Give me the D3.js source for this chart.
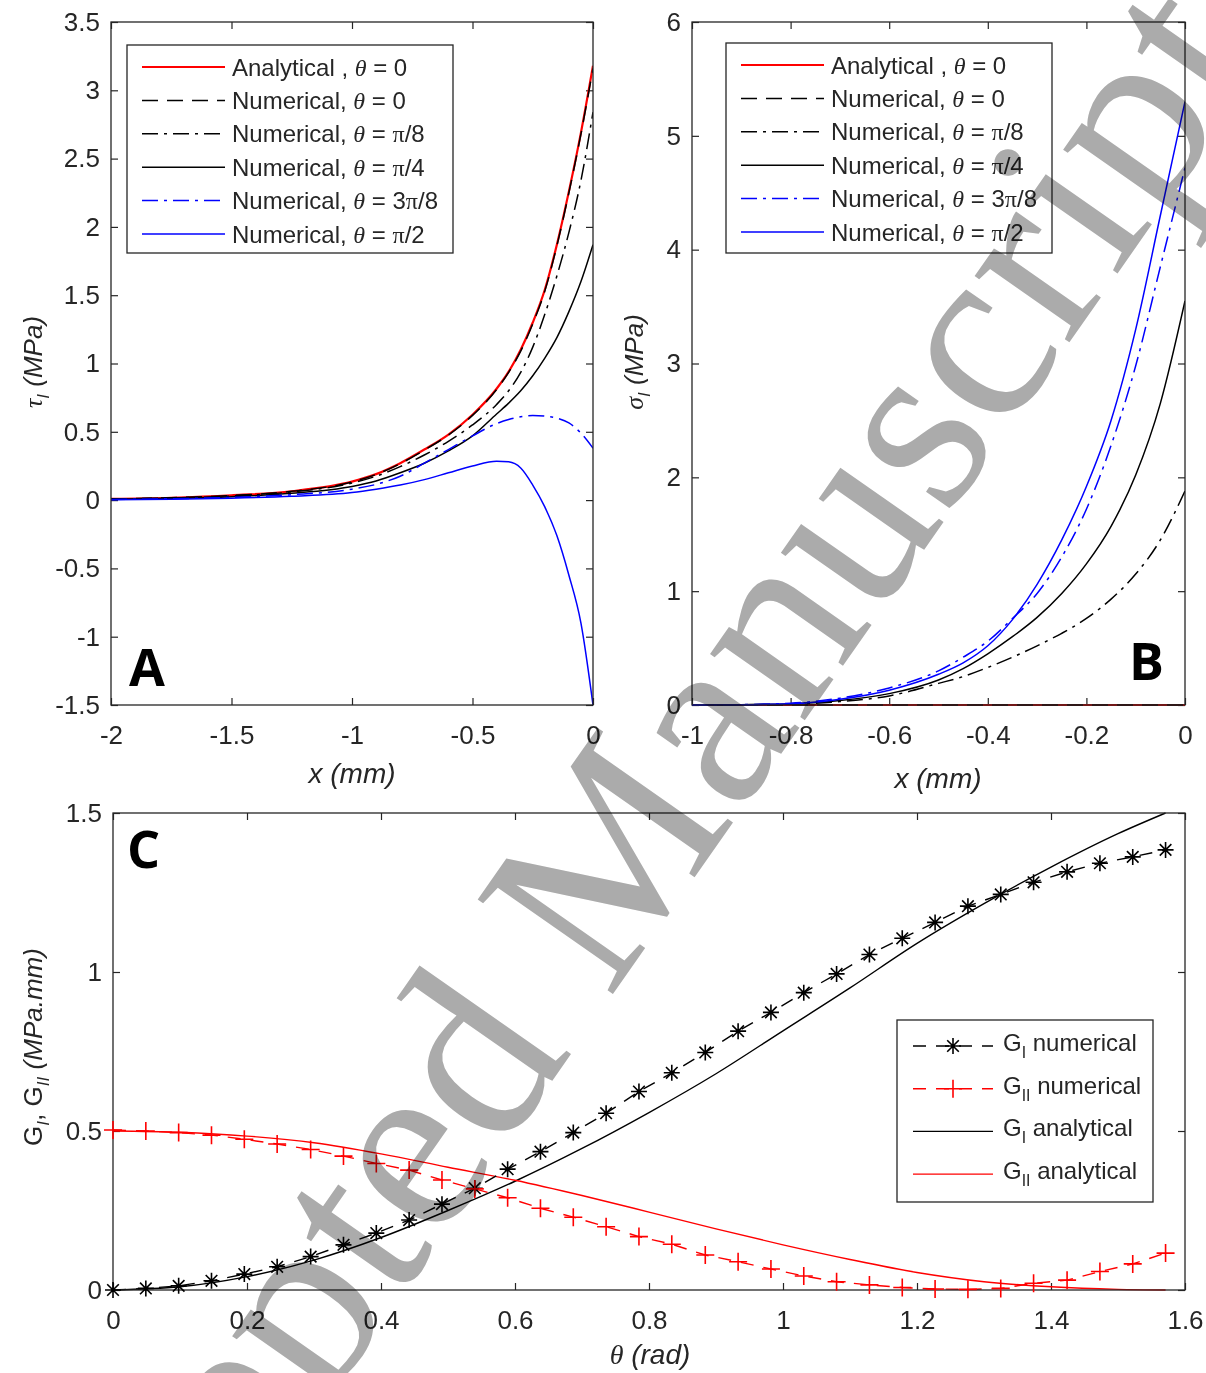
<!DOCTYPE html>
<html><head><meta charset="utf-8">
<script src="https://cdn.jsdelivr.net/npm/d3@7"></script>
<style>
body{margin:0;background:#fff;}
svg{display:block;}
</style></head><body>
<svg id="c" width="1206" height="1373" font-family="'Liberation Sans',Arial,Helvetica,sans-serif" fill="#262626"></svg>
<script>
// ---------------- DATA ----------------
// Panel A: tau_I (MPa) vs x (mm)
const xA = [-2,-1.75,-1.5,-1.25,-1,-0.9,-0.8,-0.7,-0.6,-0.5,-0.4,-0.35,-0.3,-0.25,-0.2,-0.15,-0.1,-0.05,0];
const tauAnalytical0 = [0.009,0.017,0.035,0.065,0.135,0.19,0.27,0.37,0.48,0.625,0.815,0.94,1.1,1.3,1.54,1.87,2.26,2.69,3.18];
const tauNum0        = [0.009,0.017,0.034,0.064,0.133,0.188,0.267,0.366,0.476,0.62,0.81,0.935,1.09,1.29,1.53,1.86,2.25,2.68,3.16];
const tauNumPi8      = [0.008,0.015,0.03,0.06,0.125,0.175,0.245,0.33,0.43,0.55,0.7,0.8,0.935,1.12,1.36,1.64,1.96,2.34,2.84];
const tauNumPi4      = [0.007,0.013,0.025,0.05,0.1,0.14,0.2,0.27,0.36,0.47,0.63,0.71,0.8,0.91,1.04,1.19,1.38,1.6,1.87];
const tauNum3Pi8     = [0.005,0.01,0.02,0.04,0.08,0.115,0.175,0.27,0.37,0.47,0.56,0.59,0.61,0.62,0.615,0.6,0.565,0.49,0.38];
const tauNumPi2      = [0.003,0.007,0.014,0.028,0.055,0.08,0.11,0.15,0.2,0.25,0.285,0.28,0.235,0.11,-0.05,-0.26,-0.55,-0.9,-1.5];
const xTicksA = [-2,-1.5,-1,-0.5,0];
const xTickLabelsA = ["-2","-1.5","-1","-0.5","0"];
const yTicksA = [-1.5,-1,-0.5,0,0.5,1,1.5,2,2.5,3,3.5];
const yTickLabelsA = ["-1.5","-1","-0.5","0","0.5","1","1.5","2","2.5","3","3.5"];

// Panel B: sigma_I (MPa) vs x (mm)
const xB = [-1,-0.9,-0.8,-0.7,-0.6,-0.5,-0.45,-0.4,-0.35,-0.3,-0.25,-0.2,-0.15,-0.1,-0.05,0];
const sigAnalytical0 = [0,0,0,0,0,0,0,0,0,0,0,0,0,0,0,0];
const sigNum0        = [0,0,0,0,0,0,0,0,0,0,0,0,0,0,0,0];
const sigNumPi8      = [0,0.002,0.008,0.03,0.08,0.19,0.25,0.33,0.42,0.52,0.63,0.76,0.93,1.15,1.45,1.88];
const sigNumPi4      = [0,0.003,0.012,0.04,0.1,0.22,0.32,0.45,0.6,0.77,0.98,1.24,1.57,2.02,2.65,3.55];
const sigNum3Pi8     = [0,0.003,0.015,0.06,0.15,0.3,0.42,0.56,0.76,0.98,1.3,1.72,2.28,2.98,3.85,4.72];
const sigNumPi2      = [0,0.002,0.01,0.05,0.13,0.27,0.37,0.52,0.75,1.06,1.45,1.92,2.5,3.3,4.3,5.3];
const xTicksB = [-1,-0.8,-0.6,-0.4,-0.2,0];
const xTickLabelsB = ["-1","-0.8","-0.6","-0.4","-0.2","0"];
const yTicksB = [0,1,2,3,4,5,6];
const yTickLabelsB = ["0","1","2","3","4","5","6"];

// Panel C: G_I, G_II (MPa.mm) vs theta (rad)
const thetaNum = [0,0.049,0.098,0.147,0.196,0.245,0.295,0.344,0.393,0.442,0.491,0.540,0.589,0.638,0.687,0.736,0.785,0.834,0.884,0.933,0.982,1.031,1.080,1.129,1.178,1.227,1.276,1.325,1.374,1.424,1.473,1.522,1.571];
const gINum  = [0,0.005,0.013,0.029,0.05,0.073,0.105,0.142,0.179,0.22,0.27,0.32,0.38,0.435,0.495,0.556,0.624,0.683,0.747,0.814,0.873,0.935,0.994,1.055,1.106,1.156,1.207,1.244,1.282,1.315,1.342,1.362,1.384];
const gIINum = [0.503,0.5,0.495,0.487,0.474,0.459,0.442,0.421,0.398,0.377,0.346,0.318,0.29,0.257,0.229,0.199,0.168,0.144,0.11,0.089,0.066,0.044,0.026,0.016,0.008,0.003,0.002,0.005,0.021,0.031,0.058,0.082,0.116];
const thetaAna = [0,0.1,0.2,0.3,0.4,0.5,0.6,0.7,0.8,0.9,1.0,1.1,1.2,1.3,1.4,1.5,1.571];
const gIAna  = [0,0.01,0.042,0.094,0.165,0.25,0.342,0.445,0.558,0.68,0.815,0.95,1.09,1.215,1.33,1.435,1.5];
const gIIAna = [0.5,0.496,0.484,0.463,0.428,0.386,0.345,0.297,0.245,0.192,0.142,0.096,0.055,0.026,0.01,0.002,0];
const xTicksC = [0,0.2,0.4,0.6,0.8,1,1.2,1.4,1.6];
const xTickLabelsC = ["0","0.2","0.4","0.6","0.8","1","1.2","1.4","1.6"];
const yTicksC = [0,0.5,1,1.5];
const yTickLabelsC = ["0","0.5","1","1.5"];

const legendLabelsAB = ["Analytical , θ = 0","Numerical, θ = 0","Numerical, θ = π/8","Numerical, θ = π/4","Numerical, θ = 3π/8","Numerical, θ = π/2"];
const legendLabelsC = [["G","I"," numerical"],["G","II"," numerical"],["G","I"," analytical"],["G","II"," analytical"]];
const watermarkText = "Accepted Manuscript";

// ---------------- DRAWING ----------------
const W = 1206, H = 1373;
const INK = "#262626";
const SANS = "'Liberation Sans',Arial,Helvetica,sans-serif";
const SERIF = "'Liberation Serif','Times New Roman',serif";
const svg = d3.select("#c");
svg.append("rect").attr("width", W).attr("height", H).attr("fill", "#fff");

const DASH = "16,9", DASHDOT = "16,6,3,6", DASHC = "13,10";
const seriesStyleAB = [
  {color:"#ff0000", w:2.2, dash:null},
  {color:"#000000", w:1.5, dash:DASH},
  {color:"#000000", w:1.5, dash:DASHDOT},
  {color:"#000000", w:1.5, dash:null},
  {color:"#0000ff", w:1.5, dash:DASHDOT},
  {color:"#0000ff", w:1.5, dash:null}
];

function addRich(textSel, parts) {
  let off = 0;
  parts.forEach(p => {
    const ts = textSel.append("tspan").text(p.t);
    if (p.f) ts.attr("font-family", p.f);
    if (p.i) ts.attr("font-style", "italic");
    let target = p.sub ? 7 : 0;
    if (p.sub) ts.attr("font-size", "0.66em");
    if (target !== off) { ts.attr("dy", target - off); off = target; }
  });
}
function parseGreek(str) {
  const parts = [];
  let buf = "";
  for (const ch of str) {
    if (ch === "θ" || ch === "π") {
      if (buf) parts.push({t: buf});
      buf = "";
      parts.push(ch === "θ" ? {t: ch, f: SERIF, i: true} : {t: ch, f: SERIF});
    } else buf += ch;
  }
  if (buf) parts.push({t: buf});
  return parts;
}

function panel(cfg) {
  const x = d3.scaleLinear().domain(cfg.xDomain).range([cfg.x0, cfg.x1]);
  const y = d3.scaleLinear().domain(cfg.yDomain).range([cfg.y1, cfg.y0]);
  const g = svg.append("g");
  const clipId = "clip" + cfg.id;
  svg.append("clipPath").attr("id", clipId).append("rect")
    .attr("x", cfg.x0).attr("y", cfg.y0 - 1).attr("width", cfg.x1 - cfg.x0).attr("height", cfg.y1 - cfg.y0 + 2);

  const styleAxis = a => {
    a.select(".domain").remove();
    a.attr("font-family", SANS).attr("font-size", 26);
    a.selectAll(".tick line").attr("stroke", INK).attr("stroke-width", 1.2);
    a.selectAll("text").attr("fill", INK);
  };
  g.append("g").attr("transform", `translate(0,${cfg.y1})`)
    .call(d3.axisBottom(x).tickValues(cfg.xTicks).tickFormat((d, i) => cfg.xLabels[i]).tickSize(-7).tickPadding(cfg.xPad))
    .call(styleAxis);
  g.append("g").attr("transform", `translate(0,${cfg.y0})`)
    .call(d3.axisTop(x).tickValues(cfg.xTicks).tickFormat("").tickSize(-7)).call(styleAxis);
  g.append("g").attr("transform", `translate(${cfg.x0},0)`)
    .call(d3.axisLeft(y).tickValues(cfg.yTicks).tickFormat((d, i) => cfg.yLabels[i]).tickSize(-7).tickPadding(cfg.yPad))
    .call(styleAxis);
  g.append("g").attr("transform", `translate(${cfg.x1},0)`)
    .call(d3.axisRight(y).tickValues(cfg.yTicks).tickFormat("").tickSize(-7)).call(styleAxis);

  const plot = g.append("g").attr("clip-path", `url(#${clipId})`);
  g.append("rect").attr("x", cfg.x0).attr("y", cfg.y0).attr("width", cfg.x1 - cfg.x0).attr("height", cfg.y1 - cfg.y0)
    .attr("fill", "none").attr("stroke", INK).attr("stroke-width", 1.3);
  return {x, y, g, plot};
}

// ---- Panel A & B ----
function curvePanel(cfg, xs, series) {
  const p = panel(cfg);
  series.forEach((vals, i) => {
    const st = seriesStyleAB[i];
    const line = d3.line().x((d, j) => p.x(xs[j])).y(d => p.y(d)).curve(d3.curveMonotoneX);
    p.plot.append("path").datum(vals).attr("d", line)
      .attr("fill", "none").attr("stroke", st.color).attr("stroke-width", st.w)
      .attr("stroke-dasharray", st.dash);
  });
  const L = cfg.legend;
  p.g.append("rect").attr("x", L.x).attr("y", L.y).attr("width", L.w).attr("height", L.h)
    .attr("fill", "#fff").attr("stroke", INK).attr("stroke-width", 1.3);
  legendLabelsAB.forEach((lab, i) => {
    const st = seriesStyleAB[i];
    const yy = L.y + 22 + i * L.dy;
    p.g.append("line").attr("x1", L.x + 15).attr("x2", L.x + 98).attr("y1", yy).attr("y2", yy)
      .attr("stroke", st.color).attr("stroke-width", st.w).attr("stroke-dasharray", st.dash);
    const t = p.g.append("text").attr("x", L.x + 105).attr("y", yy).attr("dy", "0.36em").attr("font-size", 24);
    addRich(t, parseGreek(lab));
  });
  p.g.append("text").attr("x", cfg.letter[0]).attr("y", cfg.letter[1]).text(cfg.id)
    .attr("font-family", "'Open Sans',sans-serif").attr("font-weight", 700).attr("font-size", 52).attr("fill", "#000");
  return p;
}

curvePanel({id:"A", x0:111, x1:593, y0:22, y1:705, xDomain:[-2,0], yDomain:[-1.5,3.5],
  xTicks:xTicksA, xLabels:xTickLabelsA, yTicks:yTicksA, yLabels:yTickLabelsA, xPad:21, yPad:11,
  legend:{x:127, y:45, w:326, h:208, dy:33.4}, letter:[129, 686]},
  xA, [tauAnalytical0, tauNum0, tauNumPi8, tauNumPi4, tauNum3Pi8, tauNumPi2]);

curvePanel({id:"B", x0:692, x1:1185, y0:22, y1:705, xDomain:[-1,0], yDomain:[0,6],
  xTicks:xTicksB, xLabels:xTickLabelsB, yTicks:yTicksB, yLabels:yTickLabelsB, xPad:21, yPad:11,
  legend:{x:726, y:43, w:326, h:210, dy:33.4}, letter:[1129, 680]},
  xB, [sigAnalytical0, sigNum0, sigNumPi8, sigNumPi4, sigNum3Pi8, sigNumPi2]);

// ---- Panel C ----
const pc = panel({id:"C", x0:113, x1:1185, y0:813, y1:1290, xDomain:[0,1.6], yDomain:[0,1.5],
  xTicks:xTicksC, xLabels:xTickLabelsC, yTicks:yTicksC, yLabels:yTickLabelsC, xPad:21, yPad:11});

const STAR = "M0,-8V8M-8,0H8M-5.8,-5.8L5.8,5.8M-5.8,5.8L5.8,-5.8";
const PLUS = "M0,-9V9M-9,0H9";
const cStyles = [
  {color:"#000000", dash:DASHC, marker:STAR, xs:thetaNum, vals:gINum, curve:d3.curveLinear},
  {color:"#ff0000", dash:DASHC, marker:PLUS, xs:thetaNum, vals:gIINum, curve:d3.curveLinear},
  {color:"#000000", dash:null, marker:null, xs:thetaAna, vals:gIAna, curve:d3.curveMonotoneX},
  {color:"#ff0000", dash:null, marker:null, xs:thetaAna, vals:gIIAna, curve:d3.curveMonotoneX}
];
[2,3,0,1].forEach(k => {
  const s = cStyles[k];
  const line = d3.line().x((d, j) => pc.x(s.xs[j])).y(d => pc.y(d)).curve(s.curve);
  pc.plot.append("path").datum(s.vals).attr("d", line).attr("fill", "none")
    .attr("stroke", s.color).attr("stroke-width", 1.4).attr("stroke-dasharray", s.dash);
  if (s.marker) {
    pc.g.selectAll(null).data(s.vals).enter().append("path")
      .attr("transform", (d, j) => `translate(${pc.x(s.xs[j])},${pc.y(d)})`)
      .attr("d", s.marker).attr("fill", "none").attr("stroke", s.color).attr("stroke-width", 1.6);
  }
});
const LC = {x:897, y:1020, w:256, h:182, dy:42.7};
pc.g.append("rect").attr("x", LC.x).attr("y", LC.y).attr("width", LC.w).attr("height", LC.h)
  .attr("fill", "#fff").attr("stroke", INK).attr("stroke-width", 1.3);
legendLabelsC.forEach((lab, i) => {
  const s = cStyles[i];
  const yy = LC.y + 26 + i * LC.dy;
  pc.g.append("line").attr("x1", LC.x + 16).attr("x2", LC.x + 96).attr("y1", yy).attr("y2", yy)
    .attr("stroke", s.color).attr("stroke-width", 1.4).attr("stroke-dasharray", s.dash);
  if (s.marker) pc.g.append("path").attr("transform", `translate(${LC.x + 56},${yy})`)
    .attr("d", s.marker).attr("fill", "none").attr("stroke", s.color).attr("stroke-width", 1.6);
  const t = pc.g.append("text").attr("x", LC.x + 106).attr("y", yy).attr("dy", "0.2em").attr("font-size", 24);
  addRich(t, [{t: lab[0]}, {t: lab[1], sub: true}, {t: lab[2]}]);
});
pc.g.append("text").attr("x", 127).attr("y", 868).text("C")
  .attr("font-family", "'Open Sans',sans-serif").attr("font-weight", 700).attr("font-size", 52).attr("fill", "#000");

// ---- Axis titles ----
function title(xp, yp, rot, parts, size) {
  const t = svg.append("text").attr("transform", `translate(${xp},${yp}) rotate(${rot})`)
    .attr("text-anchor", "middle").attr("font-size", size);
  addRich(t, parts);
}
title(352, 783, 0, [{t: "x (mm)", i: true}], 28);
title(938, 788, 0, [{t: "x (mm)", i: true}], 28);
title(650, 1364, 0, [{t: "θ", f: SERIF, i: true}, {t: " (rad)", i: true}], 28);
title(42, 362, -90, [{t: "τ", f: SERIF, i: true}, {t: "I", i: true, sub: true}, {t: " (MPa)", i: true}], 26);
title(643, 362, -90, [{t: "σ", f: SERIF, i: true}, {t: "I", i: true, sub: true}, {t: " (MPa)", i: true}], 26);
title(42, 1047, -90, [{t: "G"}, {t: "I", i: true, sub: true}, {t: ", G"}, {t: "II", i: true, sub: true}, {t: " (MPa.mm)", i: true}], 26);

// ---- Watermark ----
svg.append("text").attr("transform", "translate(27,1831) rotate(-55)")
  .attr("font-family", SERIF).attr("font-size", 252).attr("fill", "#ababab")
  .style("mix-blend-mode", "multiply").text(watermarkText);
</script>
</body></html>
